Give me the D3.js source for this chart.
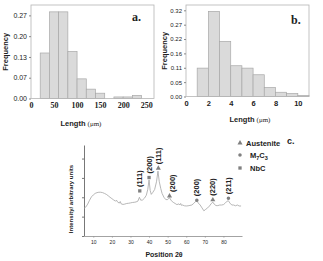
<!DOCTYPE html>
<html>
<head>
<meta charset="utf-8">
<script src="https://cdn.jsdelivr.net/npm/d3@7"></script>
<style>
  body { margin: 0; background: #fff; }
  svg text { fill: #222; }
</style>
</head>
<body>
<svg id="chart" width="323" height="261"></svg>
<script>
// ---- data ----
// panel a: length histogram (um)
const binStartA = [20, 40, 60, 80, 100, 120, 140, 160, 180, 200, 220];
const freqA = [0.146, 0.278, 0.278, 0.151, 0.063, 0.030, 0.017, 0, 0.005, 0.005, 0.010];
const tickValA = [0, 0.0667, 0.1333, 0.2, 0.2667];
const tickLabA = ["0.00", "0.07", "0.13", "0.20", "0.27"];
const xTicksA = [0, 50, 100, 150, 200, 250];

// panel b: length histogram (um)
const binStartB = [1, 2, 3, 4, 5, 6, 7, 8, 9, 10];
const freqB = [0.107, 0.321, 0.208, 0.116, 0.107, 0.082, 0.034, 0.016, 0.011, 0.004];
const tickValB = [0, 0.0542, 0.1083, 0.1625, 0.2167, 0.2708, 0.325];
const tickLabB = ["0.00", "0.05", "0.11", "0.16", "0.22", "0.27", "0.32"];
const xTicksB = [0, 2, 4, 6, 8, 10];

// panel c: XRD pattern
const twoTheta = [5, 6, 7, 8, 9, 10, 11, 12, 13, 14, 15, 16, 17, 18, 19, 20, 21, 22, 22.5, 23, 24, 24.5, 25, 26, 27, 28, 29, 30,
  31, 32, 33, 34, 34.8, 35.5, 36.5, 37.5, 38.5, 39.3, 40, 40.6, 41.2, 42, 43, 44, 44.8, 45.5, 46.3, 47, 48, 49, 50, 51, 52, 53,
  54, 55, 56, 56.5, 57, 57.5, 58, 59, 60, 61, 62, 63, 64, 65, 65.7, 66.5, 67.5, 68.5, 69.5, 70.5, 71.5, 72.5, 73.5, 74.3, 75,
  76, 77, 78, 79, 80, 81, 82, 82.7, 83.5, 84.5, 85.5, 86.5, 87.5, 88.5, 89.5];
const intensity = [1.43, 1.5, 1.65, 1.85, 2.02, 2.12, 2.2, 2.24, 2.26, 2.26, 2.24, 2.2, 2.15, 2.08, 2.0, 1.93, 1.86, 1.8, 1.85, 1.76, 1.7, 1.78, 1.66, 1.63, 1.65, 1.68, 1.69, 1.71,
  1.73, 1.74, 1.76, 1.8, 2.0, 1.85, 1.86, 1.95, 2.1, 2.4, 2.9, 2.35, 2.15, 2.25, 2.4, 2.8, 3.35, 2.8, 2.45, 2.2, 2.0, 1.88, 1.88, 1.98, 1.82, 1.74,
  1.68, 1.62, 1.66, 1.6, 1.68, 1.58, 1.6, 1.56, 1.55, 1.56, 1.58, 1.6, 1.68, 1.78, 1.82, 1.7, 1.6, 1.45, 1.3, 1.38, 1.45, 1.55, 1.68, 1.75, 1.65,
  1.57, 1.57, 1.6, 1.6, 1.62, 1.7, 1.8, 1.82, 1.7, 1.6, 1.6, 1.56, 1.6, 1.55, 1.55];
const peakTheta = [35, 40, 45, 51, 65.7, 74.3, 82.7];
const peakMark = [2.33, 3.02, 3.5, 2.07, 1.85, 1.87, 1.95];
const peakLabel = ["(111)", "(200)", "(111)", "(200)", "(200)", "(220)", "(211)"];
const peakPhase = ["NbC", "NbC", "Austenite", "Austenite", "M7C3", "Austenite", "M7C3"];
const phases = ["Austenite", "M7C3", "NbC"];
const xTicksC = [10, 20, 30, 40, 50, 60, 70, 80];
const yTicksC = [0, 1, 2, 3, 4];

const svg = d3.select("#chart");
const sans = "'Liberation Sans', Arial, sans-serif";
const serif = "'Liberation Serif', 'Times New Roman', serif";

// ---- histogram helper ----
function histogram(opt) {
  const x = d3.scaleLinear().domain(opt.xDomain).range([opt.left, opt.right]);
  const y = d3.scaleLinear().domain(opt.yDomain).range([opt.bottom, opt.top]);
  const g = svg.append("g");

  g.selectAll("rect.bar")
    .data(opt.freq)
    .enter()
    .append("rect")
    .attr("class", "bar")
    .attr("x", (d, i) => x(opt.bins[i]))
    .attr("width", (d, i) => x(opt.bins[i] + opt.binW) - x(opt.bins[i]))
    .attr("y", d => y(d))
    .attr("height", d => y(0) - y(d))
    .attr("fill", "#dadada")
    .attr("stroke", "#a8a8a8")
    .attr("stroke-width", 0.7);

  // frame
  g.append("rect")
    .attr("x", opt.left).attr("y", opt.top)
    .attr("width", opt.right - opt.left).attr("height", opt.bottom - opt.top)
    .attr("fill", "none").attr("stroke", "#b5b5b5").attr("stroke-width", 0.8);

  const yAxis = g.append("g")
    .attr("transform", "translate(" + opt.left + ",0)")
    .call(d3.axisLeft(y).tickValues(opt.yTicks).tickFormat((d, i) => opt.yLabels[i]).tickSize(2).tickPadding(2));
  yAxis.select(".domain").remove();
  yAxis.selectAll("line").attr("stroke", "#888");
  yAxis.selectAll("text").style("font", opt.yFont).attr("fill", "#333");

  const xAxis = g.append("g")
    .attr("transform", "translate(0," + opt.bottom + ")")
    .call(d3.axisBottom(x).tickValues(opt.xTicks).tickSize(0).tickPadding(4));
  xAxis.select(".domain").remove();
  xAxis.selectAll("text").style("font", opt.xFont).attr("fill", "#111");

  g.append("text")
    .attr("transform", "translate(" + opt.yTitleX + "," + ((opt.top + opt.bottom) / 2) + ") rotate(-90)")
    .attr("text-anchor", "middle")
    .style("font", "bold 7.5px " + sans)
    .text("Frequency");

  const t = g.append("text")
    .attr("x", opt.xTitleX)
    .attr("y", opt.xTitleY)
    .attr("text-anchor", "middle");
  t.append("tspan").style("font", "bold 7.5px " + sans).text("Length ");
  t.append("tspan").style("font", "7px " + serif).text("(\u03bcm)");

  g.append("text")
    .attr("x", opt.tagX).attr("y", opt.tagY)
    .style("font", "bold 12px " + serif)
    .text(opt.tag);
}

histogram({
  bins: binStartA, freq: freqA, binW: 20,
  xDomain: [0, 267], yDomain: [0, 0.30],
  left: 31, right: 154, top: 5, bottom: 98.5,
  yTicks: tickValA, yLabels: tickLabA, xTicks: xTicksA,
  yFont: "7px " + sans, xFont: "bold 8px " + serif,
  yTitleX: 8, xTitleX: 81, xTitleY: 126, tag: "a.", tagX: 132, tagY: 21
});

histogram({
  bins: binStartB, freq: freqB, binW: 1,
  xDomain: [0, 11], yDomain: [0, 0.345],
  left: 186, right: 309, top: 5, bottom: 96.5,
  yTicks: tickValB, yLabels: tickLabB, xTicks: xTicksB,
  yFont: "6px " + sans, xFont: "bold 7.5px " + sans,
  yTitleX: 167, xTitleX: 250, xTitleY: 122, tag: "b.", tagX: 291, tagY: 24
});

// ---- panel c ----
const xC = d3.scaleLinear().domain([5, 90]).range([84, 242]);
const yC = d3.scaleLinear().domain([0, 4.7]).range([236, 145]);
const gc = svg.append("g");

const xAxC = gc.append("g")
  .attr("transform", "translate(0,236)")
  .call(d3.axisBottom(xC).tickValues(xTicksC).tickSize(1.5).tickPadding(3).tickSizeOuter(0));
xAxC.select(".domain").attr("stroke", "#999").attr("stroke-width", 0.9);
xAxC.selectAll("line").attr("stroke", "#999");
xAxC.selectAll("text").style("font", "5px " + sans).attr("fill", "#444");

const yAxC = gc.append("g")
  .attr("transform", "translate(84,0)")
  .call(d3.axisLeft(yC).tickValues(yTicksC).tickFormat("").tickSize(2).tickSizeOuter(0));
yAxC.select(".domain").attr("stroke", "#777").attr("stroke-width", 1);
yAxC.selectAll("line").attr("stroke", "#777");

const pts = twoTheta.map((t, i) => [t, intensity[i]]);
gc.append("path")
  .datum(pts)
  .attr("fill", "none")
  .attr("stroke", "#a5a5a5")
  .attr("stroke-width", 0.8)
  .attr("d", d3.line().x(d => xC(d[0])).y(d => yC(d[1])));

const symType = { "Austenite": d3.symbolTriangle, "M7C3": d3.symbolCircle, "NbC": d3.symbolSquare };
const symSize = { "Austenite": 11, "M7C3": 10, "NbC": 11 };

gc.selectAll("path.mark")
  .data(peakTheta)
  .enter()
  .append("path")
  .attr("class", "mark")
  .attr("transform", (d, i) => "translate(" + xC(d) + "," + yC(peakMark[i]) + ")")
  .attr("d", (d, i) => d3.symbol().type(symType[peakPhase[i]]).size(symSize[peakPhase[i]])())
  .attr("fill", "#808080");

gc.selectAll("text.peak")
  .data(peakTheta)
  .enter()
  .append("text")
  .attr("class", "peak")
  .attr("transform", (d, i) => "translate(" + (xC(d) + (i === 3 ? 2.5 : 0)) + "," + (yC(peakMark[i]) - 4) + ") rotate(-90)")
  .attr("dy", "0.35em")
  .style("font", "bold 7.5px " + sans)
  .text((d, i) => peakLabel[i]);

// legend
const legY = [143, 155, 168];
phases.forEach((p, i) => {
  gc.append("path")
    .attr("transform", "translate(240," + legY[i] + ")")
    .attr("d", d3.symbol().type(symType[p]).size(symSize[p])())
    .attr("fill", "#808080");
  const lt = gc.append("text")
    .attr("x", p === "Austenite" ? 246 : 250)
    .attr("y", legY[i] + 2.8)
    .style("font", "bold 7.5px " + sans);
  if (p === "M7C3") {
    lt.append("tspan").text("M");
    lt.append("tspan").attr("dy", 2).style("font-size", "5.5px").text("7");
    lt.append("tspan").attr("dy", -2).text("C");
    lt.append("tspan").attr("dy", 2).style("font-size", "5.5px").text("3");
  } else {
    lt.text(p);
  }
});

gc.append("text")
  .attr("x", 287).attr("y", 144)
  .style("font", "bold 9px " + sans)
  .text("c.");

gc.append("text")
  .attr("transform", "translate(73,199) rotate(-90)")
  .attr("text-anchor", "middle")
  .style("font", "bold 6px " + sans)
  .text("Intensity/ arbitrary units");

gc.append("text")
  .attr("x", 164).attr("y", 257)
  .attr("text-anchor", "middle")
  .style("font", "bold 7px " + sans)
  .text("Position 2\u03b8");
</script>
</body>
</html>
